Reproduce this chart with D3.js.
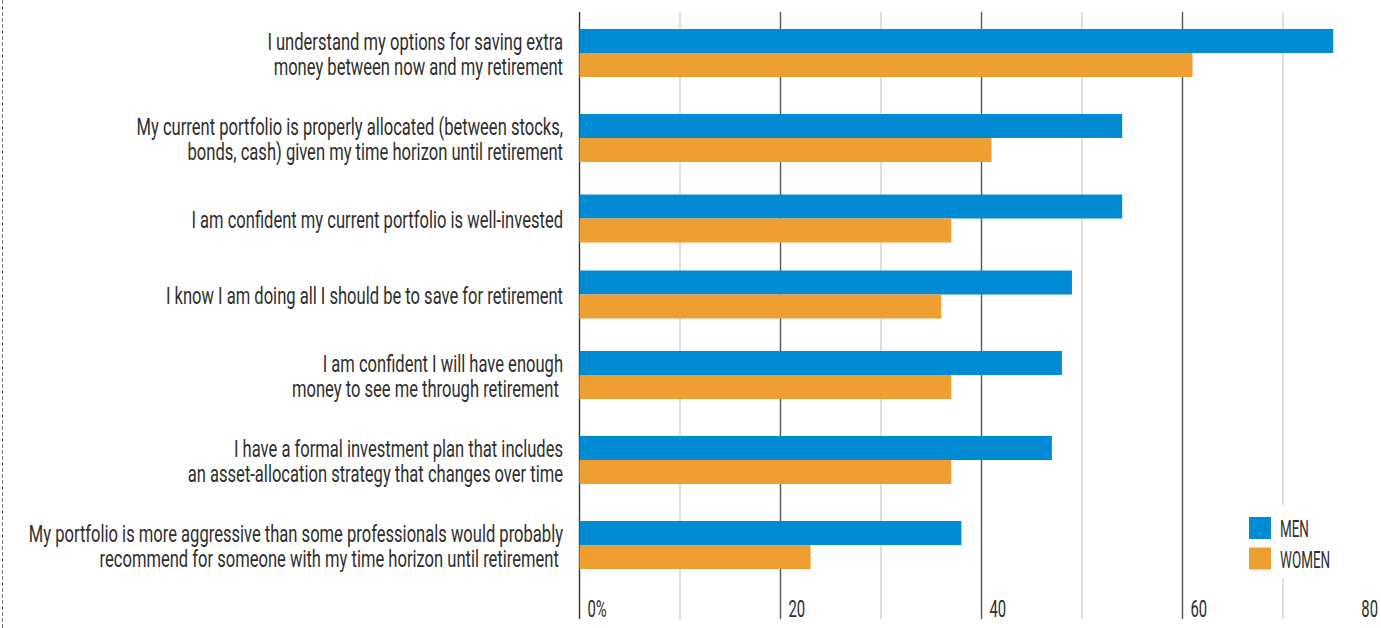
<!DOCTYPE html>
<html>
<head>
    <meta charset="utf-8">
    <script src="https://d3js.org/d3.v7.min.js"></script>
    <style>
        body { margin: 0; background: #fff; }
        svg { display: block; }
        text { font-family: Roboto, "Liberation Sans", sans-serif; fill: #2e2e2e; white-space: pre; }
    </style>
</head>

<body>
    <div id="app"></div>
</body>

<script>
    // survey statements (one entry per label line)
    const categories = [
        ["I understand my options for saving extra", "money between now and my retirement"],
        ["My current portfolio is properly allocated (between stocks,", "bonds, cash) given my time horizon until retirement"],
        ["I am confident my current portfolio is well-invested"],
        ["I know I am doing all I should be to save for retirement"],
        ["I am confident I will have enough", "money to see me through retirement\u00a0"],
        ["I have a formal investment plan that includes", "an asset-allocation strategy that changes over time"],
        ["My portfolio is more aggressive than some professionals would probably", "recommend for someone with my time horizon until retirement\u00a0"]
    ];
    const menValues = [75, 54, 54, 49, 48, 47, 38];
    const womenValues = [61, 41, 37, 36, 37, 37, 23];
    const seriesNames = ["MEN", "WOMEN"];
    const gridValues = [0, 10, 20, 30, 40, 50, 60, 70, 80];
    const tickLabels = [[0, "0%"], [20, "20"], [40, "40"], [60, "60"], [80, "80"]];

    const W = 1381, H = 628;
    const colors = ["#008bd2", "#ef9e32"];
    const barH = 24;
    const labelScale = 0.69;    // the original face is a very narrow condensed font
    const tickScale = 0.62;
    const legendScale = 0.56;

    const svg = d3.select("#app").append("svg")
        .attr("width", W)
        .attr("height", H);

    // dashed frame edge on the far left
    svg.append("line")
        .attr("x1", 2.5).attr("x2", 2.5)
        .attr("y1", 0).attr("y2", H)
        .attr("stroke", "#777")
        .attr("stroke-dasharray", "4 2");

    const x = d3.scaleLinear().domain([0, 80]).range([579.5, 1383.5]);

    // rows with two label lines take a little more room
    const rowSize = categories.map(c => 76 + (c.length - 1) * 9);
    const starts = d3.cumsum([0].concat(rowSize));
    const y = d3.scaleLinear().domain([0, d3.sum(rowSize)]).range([10.5, 587.5]);
    const centers = categories.map((c, i) => y(starts[i] + rowSize[i] / 2));

    // gridlines
    svg.append("g").selectAll("line")
        .data(gridValues)
        .join("line")
        .attr("x1", d => x(d)).attr("x2", d => x(d))
        .attr("y1", 12).attr("y2", 619)
        .attr("stroke", d => d === 0 ? "#333" : (d % 20 === 0 ? "#555" : "#d2d2d2"))
        .attr("stroke-width", 1.4);

    // bars
    const rows = svg.append("g").selectAll("g")
        .data(categories.map((c, i) => ({ c, i, vals: [menValues[i], womenValues[i]] })))
        .join("g")
        .attr("transform", d => `translate(0,${centers[d.i]})`);

    rows.selectAll("rect")
        .data(d => d.vals)
        .join("rect")
        .attr("x", x(0))
        .attr("y", (d, j) => j === 0 ? -barH : 0)
        .attr("width", d => x(d) - x(0))
        .attr("height", barH)
        .attr("fill", (d, j) => colors[j]);

    // category labels, one text per statement with a tspan per line
    const labels = rows.append("text")
        .attr("transform", `translate(563,0) scale(${labelScale},1)`)
        .attr("text-anchor", "end")
        .attr("font-size", 24);

    labels.selectAll("tspan")
        .data(d => d.c.map((t, k) => ({ t, k, n: d.c.length })))
        .join("tspan")
        .attr("x", 0)
        .attr("y", d => d.n === 1 ? 9 : (d.k === 0 ? -3.5 : 21.5))
        .text(d => d.t);

    // value axis labels
    svg.append("g").selectAll("text")
        .data(tickLabels)
        .join("text")
        .attr("transform", d => d[0] === 80
            ? `translate(1378,617) scale(${tickScale},1)`
            : `translate(${x(d[0]) + 8},617) scale(${tickScale},1)`)
        .attr("text-anchor", d => d[0] === 80 ? "end" : "start")
        .attr("font-size", 24)
        .text(d => d[1]);

    // legend
    const legend = svg.append("g");
    legend.append("rect")
        .attr("x", 1238).attr("y", 505)
        .attr("width", W - 1238).attr("height", 73)
        .attr("fill", "#fff");

    const items = legend.selectAll("g")
        .data(seriesNames)
        .join("g")
        .attr("transform", (d, i) => `translate(1249,${517 + i * 30.5})`);

    items.append("rect")
        .attr("width", 22).attr("height", 22)
        .attr("fill", (d, i) => colors[i]);

    items.append("text")
        .attr("transform", `translate(31,20) scale(${legendScale},1)`)
        .attr("font-size", 24)
        .text(d => d);
</script>
</html>
